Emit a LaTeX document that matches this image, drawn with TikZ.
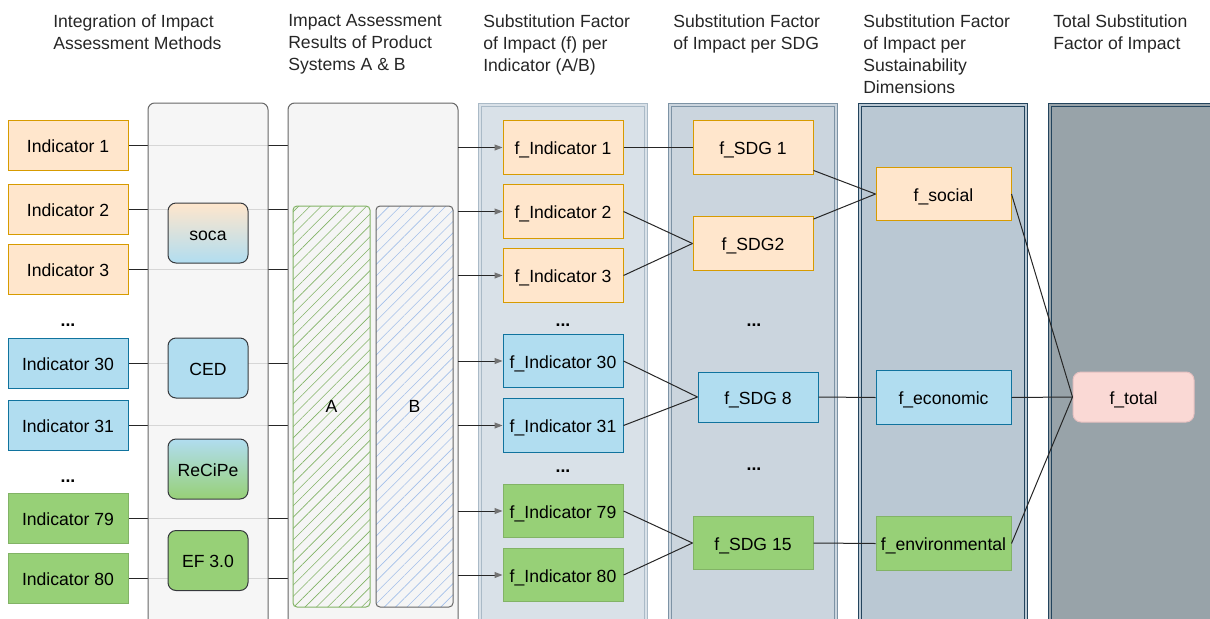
\documentclass[tikz,border=0pt]{standalone}
\usepackage{fontspec}
\setmainfont{Liberation Sans}
\usetikzlibrary{
  arrows.meta,
  patterns.meta
}
\pgfdeclarelayer{wires}
\pgfsetlayers{wires,main}

\definecolor{orFill}{HTML}{FFE6CC}
\definecolor{orLine}{HTML}{D79B00}
\definecolor{blFill}{HTML}{B1DDF0}
\definecolor{blLine}{HTML}{10739E}
\definecolor{grFill}{HTML}{97D077}
\definecolor{grLine}{HTML}{82B366}
\definecolor{methodLine}{HTML}{36393D}
\definecolor{sheet}{HTML}{F5F5F5}
\definecolor{sheetLine}{HTML}{666666}
\definecolor{hatchB}{HTML}{A3BFEA}
\definecolor{totFill}{HTML}{FAD9D5}
\definecolor{totLine}{HTML}{E6C0C0}
\definecolor{colFill}{HTML}{D9E1E8}
\definecolor{colLine}{HTML}{AABAC7}
\definecolor{sdgFill}{HTML}{CBD5DE}
\definecolor{sdgLine}{HTML}{7D93A5}
\definecolor{dimFill}{HTML}{BAC8D3}
\definecolor{dimLine}{HTML}{23445D}
\definecolor{totColFill}{HTML}{98A3A9}

\begin{document}
\begin{tikzpicture}[x=0.75pt, y=-0.75pt,
    font=\fontsize{13.2pt}{16.5pt}\selectfont,
    box/.style={draw, line width=0.75pt, inner sep=0pt,
      text height=10.6pt, text depth=0pt,
      minimum width=90pt, minimum height=37.5pt},
    fbox/.style={box, minimum height=40pt},
    dimbox/.style={fbox, minimum width=101.25pt},
    orangebox/.style={fill=orFill, draw=orLine},
    bluebox/.style={fill=blFill, draw=blLine},
    greenbox/.style={fill=grFill, draw=grLine},
    method/.style={draw=methodLine, line width=0.75pt, rounded corners=6pt,
      text height=10.6pt, text depth=0pt,
      minimum width=60pt, minimum height=45pt, inner sep=0pt},
    panel/.style={line width=0.75pt, double distance=1.5pt},
    bar/.style={line width=0.75pt, rounded corners=3pt, inner sep=0pt,
      minimum width=57.75pt, minimum height=300.75pt, preaction={fill=sheet}},
    hatch/.style={pattern={Lines[angle=45, distance=6pt, line width=0.45pt]}},
    head/.style={anchor=north west, align=left, inner sep=0pt, text=black!85},
    dots/.style={font=\fontsize{13.2pt}{16.5pt}\selectfont\bfseries},
    wire/.style={draw=black!85, line width=0.75pt},
    feed/.style={wire, -{Triangle[length=6pt, width=4.5pt, color=black!55]}}
  ]
  \useasboundingbox (0,0) rectangle (1210,618);

  % headers
  \node[head] (h1) at (53,14) {Integration of Impact\\Assessment Methods};
  \node[head] (h2) at (288,14) {Impact Assessment\\Results of Product\\Systems A \& B};
  \node[head] (h3) at (483,14) {Substitution Factor\\of Impact (f) per\\Indicator (A/B)};
  \node[head] (h4) at (673,14) {Substitution Factor\\of Impact per SDG};
  \node[head] (h5) at (863,14) {Substitution Factor\\of Impact per\\Sustainability\\Dimensions};
  \node[head] (h6) at (1053,14) {Total Substitution\\Factor of Impact};

  % column panels
  \draw[draw=sheetLine, fill=sheet, fill opacity=0.85, rounded corners=5pt, line width=0.75pt]
    (148,103) rectangle (268,640);
  \draw[draw=sheetLine, fill=sheet, rounded corners=5pt, line width=0.75pt]
    (288,103) rectangle (458,640);
  \draw[panel, draw=colLine, double=colFill, fill=colFill] (480,105) rectangle (646,640);
  \draw[panel, draw=sdgLine, double=sdgFill, fill=sdgFill] (670,105) rectangle (836,640);
  \draw[panel, draw=dimLine, double=dimFill, fill=dimFill] (860,105) rectangle (1026,640);
  \draw[panel, draw=dimLine, double=totColFill, fill=totColFill] (1050,105) rectangle (1240,640);

  \coordinate (abIn) at (320,0);
  \coordinate (abOut) at (458,0);

  % indicators
  \node[box, orangebox] (ind1) at (68,145) {Indicator 1};
  \node[box, orangebox] (ind2) at (68,209) {Indicator 2};
  \node[box, orangebox] (ind3) at (68,269) {Indicator 3};
  \node[dots] (dotsA) at (68,325) {...};
  \node[box, bluebox] (ind30) at (68,363) {Indicator 30};
  \node[box, bluebox] (ind31) at (68,425) {Indicator 31};
  \node[dots] (dotsB) at (68,481) {...};
  \node[box, greenbox] (ind79) at (68,518) {Indicator 79};
  \node[box, greenbox] (ind80) at (68,578) {Indicator 80};

  % assessment methods
  \node[method, top color=orFill, bottom color=blFill] (soca) at (208,233) {soca};
  \node[method, fill=blFill] (ced) at (208,368) {CED};
  \node[method, top color=blFill, bottom color=grFill] (recipe) at (208,469) {ReCiPe};
  \node[method, fill=grFill] (ef) at (208,560.5) {EF 3.0};

  % product systems
  \node[bar, hatch, draw=grLine, pattern color=grLine] (sysA) at (331.5,406.5) {A};
  \node[bar, hatch, draw=sheetLine, pattern color=hatchB] (sysB) at (414.5,406.5) {B};

  % factors per indicator
  \node[fbox, orangebox] (fi1) at (563,147.5) {f\_Indicator 1};
  \node[fbox, orangebox] (fi2) at (563,211.5) {f\_Indicator 2};
  \node[fbox, orangebox] (fi3) at (563,275.5) {f\_Indicator 3};
  \node[dots] (dotsC) at (563,325) {...};
  \node[fbox, bluebox] (fi30) at (563,361) {f\_Indicator 30};
  \node[fbox, bluebox] (fi31) at (563,425.5) {f\_Indicator 31};
  \node[dots] (dotsD) at (563,471) {...};
  \node[fbox, greenbox] (fi79) at (563,511) {f\_Indicator 79};
  \node[fbox, greenbox] (fi80) at (563,575) {f\_Indicator 80};

  % factors per SDG
  \node[fbox, orangebox] (sdg1) at (753,147.5) {f\_SDG 1};
  \node[fbox, orangebox] (sdg2) at (753,243.5) {f\_SDG2};
  \node[dots] (dotsE) at (754,325) {...};
  \node[box, bluebox] (sdg8) at (758,397) {f\_SDG 8};
  \node[dots] (dotsF) at (754,469) {...};
  \node[fbox, greenbox] (sdg15) at (753,543) {f\_SDG 15};

  % sustainability dimensions
  \node[dimbox, orangebox] (social) at (943.5,194) {f\_social};
  \node[dimbox, bluebox] (economic) at (943.5,397.5) {f\_economic};
  \node[dimbox, greenbox] (environmental) at (943.5,543.5) {f\_environmental};

  % total
  \node[box, fill=totFill, draw=totLine, rounded corners=6pt, minimum width=90.75pt]
    (total) at (1133.5,397) {f\_total};

  % indicators into the assessment
  \begin{pgfonlayer}{wires}
    \foreach \i in {ind1,ind2,ind3,ind30,ind31,ind79,ind80}
      \draw[wire] (\i.east) -- (\i -| abIn);
  \end{pgfonlayer}

  \foreach \f in {fi1,fi2,fi3,fi30,fi31,fi79,fi80}
    \draw[feed] (\f -| abOut) -- (\f.west);

  \draw[wire] (fi1.east) -- (sdg1.west);
  \draw[wire] (fi2.east) -- (sdg2.west);
  \draw[wire] (fi3.east) -- (sdg2.west);
  \draw[wire] (fi30.east) -- (sdg8.west);
  \draw[wire] (fi31.east) -- (sdg8.west);
  \draw[wire] (fi79.east) -- (sdg15.west);
  \draw[wire] (fi80.east) -- (sdg15.west);

  \draw[wire] (sdg1) -- (social.west);
  \draw[wire] (sdg2) -- (social.west);
  \draw[wire] (sdg8.east) -- (economic.west);
  \draw[wire] (sdg15.east) -- (environmental.west);

  \draw[wire] (social.east) -- (total.west);
  \draw[wire] (economic.east) -- (total.west);
  \draw[wire] (environmental.east) -- (total.west);
\end{tikzpicture}
\end{document}
